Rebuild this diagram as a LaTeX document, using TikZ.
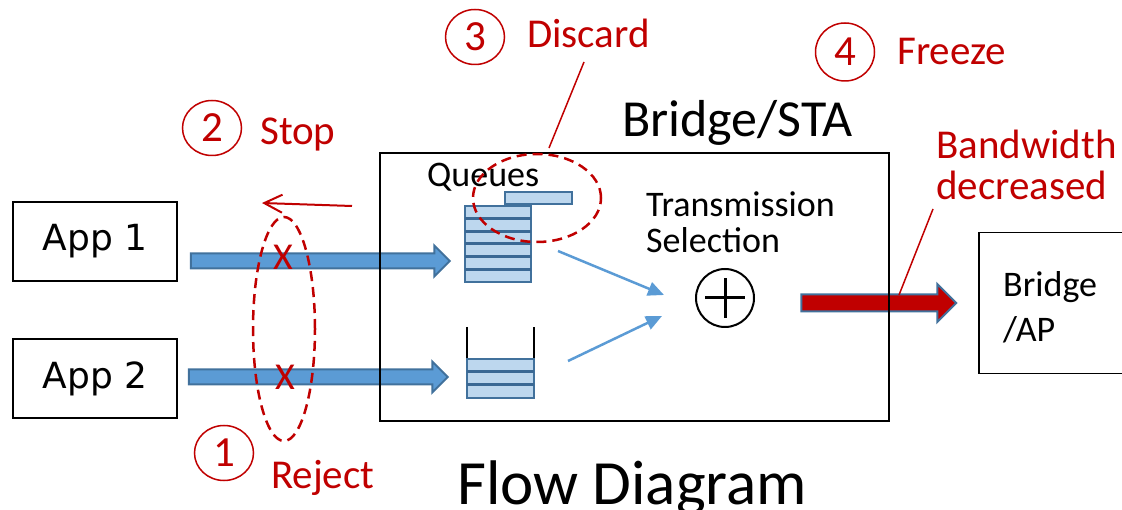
\documentclass[tikz,border=0pt]{standalone}
\usepackage{fontspec}
\setmainfont{Carlito}
\newfontfamily\appfont{DejaVu Sans}
\usetikzlibrary{arrows.meta,shapes.arrows,shapes.geometric}
\definecolor{darkred}{HTML}{C00000}
\definecolor{arrowblue}{HTML}{5B9BD5}
\definecolor{edgeblue}{HTML}{41719C}
\definecolor{cellblue}{HTML}{BDD7EE}
\definecolor{lineblue}{HTML}{3A6894}
\tikzset{
  appbox/.style = {draw, line width=1.5pt, minimum width=164pt, minimum height=79pt,
                   font=\appfont\fontsize{36}{40}\selectfont},
  blockarrow/.style = {single arrow, draw=edgeblue, line width=2pt, fill=arrowblue, inner xsep=0pt,
                       inner ysep=6.5pt, single arrow head extend=8pt, single arrow tip angle=90},
  numcirc/.style = {ellipse, draw=darkred, line width=1.5pt, text=darkred, inner sep=0pt,
                    minimum width=59pt, minimum height=55pt, font=\fontsize{43}{48}\selectfont},
  redlbl/.style = {text=darkred, font=\fontsize{41}{41}\selectfont, anchor=base west, inner sep=0pt},
  blacklbl/.style = {font=\fontsize{36}{36}\selectfont, anchor=base west, inner sep=0pt},
  hoop/.style = {ellipse, draw=darkred, line width=2.5pt, dash pattern=on 10pt off 6pt, inner sep=0pt},
  feed/.style = {draw=arrowblue, line width=2.5pt, -{Triangle[length=16pt,width=14pt]}},
  cell/.style = {draw=edgeblue, line width=2pt, fill=cellblue, inner sep=0pt},
  divider/.style = {draw=lineblue, line width=3pt},
  pointer/.style = {draw=darkred, line width=1.5pt},
}
\begin{document}
\begin{tikzpicture}[x=1pt, y=-1pt]
  \useasboundingbox (0,0) rectangle (1122,510);
  % applications
  \node[appbox] (app1) at (95,241.5) {App 1};
  \node[appbox] (app2) at (95,378.5) {App 2};
  % flows into the bridge
  \node[blockarrow, minimum height=259pt] (flow1) at (316.5,261) {};
  \node[blockarrow, minimum height=259pt] (flow2) at (314.5,377) {};
  \node[blockarrow, fill=darkred, inner ysep=7.5pt, single arrow head extend=10.5pt,
        minimum height=155pt] (out) at (874.5,303) {};
  % bridge/STA and AP
  \node[draw, line width=1.5pt, minimum width=509pt, minimum height=268pt] (sta) at (634.5,287) {};
  \node[blacklbl, font=\fontsize{52}{52}\selectfont] (stalbl) at (622,137) {Bridge/STA};
  \node[draw, line width=1.5pt, anchor=north west, minimum width=170pt, minimum height=141pt] (ap) at (978,232) {};
  \node[blacklbl, align=left, font=\fontsize{36}{45}\selectfont] (aplbl) at (1003,342) {Bridge\\/AP};
  % queues
  \node[blacklbl] (qlbl) at (427,187) {Queues};
  \draw[line width=1.5pt] (465,206) -- (465,282) -- (531,282) -- (531,206);
  \node[cell, minimum width=66pt, minimum height=76pt] (q1) at (498,244) {};
  \foreach \y in {218.7,231.3,244,256.7,269.3}{
  \draw[divider] (465,\y) -- (531,\y);}
  \node[cell, minimum width=67pt, minimum height=12pt] (pkt) at (538.5,198) {};
  \draw[line width=1.5pt] (467,327) -- (467,398) -- (534,398) -- (534,327);
  \node[cell, minimum width=67pt, minimum height=39pt] (q2) at (500.5,378.5) {};
  \foreach \y in {372,385}{
  \draw[divider] (467,\y) -- (534,\y);}
  % transmission selection
  \node[blacklbl, align=left] (tslbl) at (646,253) {Transmission\\Selection};
  \node[circle, draw, line width=2pt, minimum size=58pt, inner sep=0pt] (sel) at (725,298) {};
  \draw[line width=3pt] ([xshift=-20pt]sel.center) -- ([xshift=20pt]sel.center);
  \draw[line width=3pt] ([yshift=-20pt]sel.center) -- ([yshift=20pt]sel.center);
  \coordinate (f1) at (558,251);
  \coordinate (t1) at (664,295);
  \coordinate (f2) at (568,361);
  \coordinate (t2) at (662,316);
  \draw[feed] (f1) -- (t1);
  \draw[feed] (f2) -- (t2);
  % 1 reject
  \node[hoop, minimum width=62pt, minimum height=224pt] (rej) at (284,329) {};
  \node[text=darkred, font=\fontsize{38}{38}\selectfont, inner sep=0pt] (x1) at (283,257) {X};
  \node[text=darkred, font=\fontsize{38}{38}\selectfont, inner sep=0pt] (x2) at (285,377) {X};
  \node[numcirc] (c1) at (224,453) {1};
  \node[redlbl] (rejlbl) at (271,488) {Reject};
  % 2 stop
  \node[numcirc] (c2) at (212,128) {2};
  \node[redlbl] (stoplbl) at (260,145) {Stop};
  \coordinate (s1) at (352,206);
  \coordinate (s2) at (262,203);
  \draw[draw=darkred, line width=2pt, -{Straight Barb[length=18pt,width=18pt]}] (s1) -- (s2);
  % 3 discard
  \node[hoop, minimum width=128pt, minimum height=88pt] (disc) at (537,198) {};
  \node[numcirc] (c3) at (475,37) {3};
  \node[redlbl] (disclbl) at (527,48) {Discard};
  \coordinate (d1) at (584,62);
  \coordinate (d2) at (549,148);
  \draw[pointer] (d1) -- (d2);
  % 4 freeze
  \node[numcirc, minimum height=58pt] (c4) at (845,52) {4};
  \node[redlbl] (frzlbl) at (897,65) {Freeze};
  \node[redlbl, align=left] (bwlbl) at (936,200) {Bandwidth\\decreased};
  \coordinate (w1) at (933,209);
  \coordinate (w2) at (899,295);
  \draw[pointer] (w1) -- (w2);
  % title
  \node[blacklbl, font=\fontsize{63}{63}\selectfont] (title) at (457,504) {Flow Diagram};
\end{tikzpicture}
\end{document}
